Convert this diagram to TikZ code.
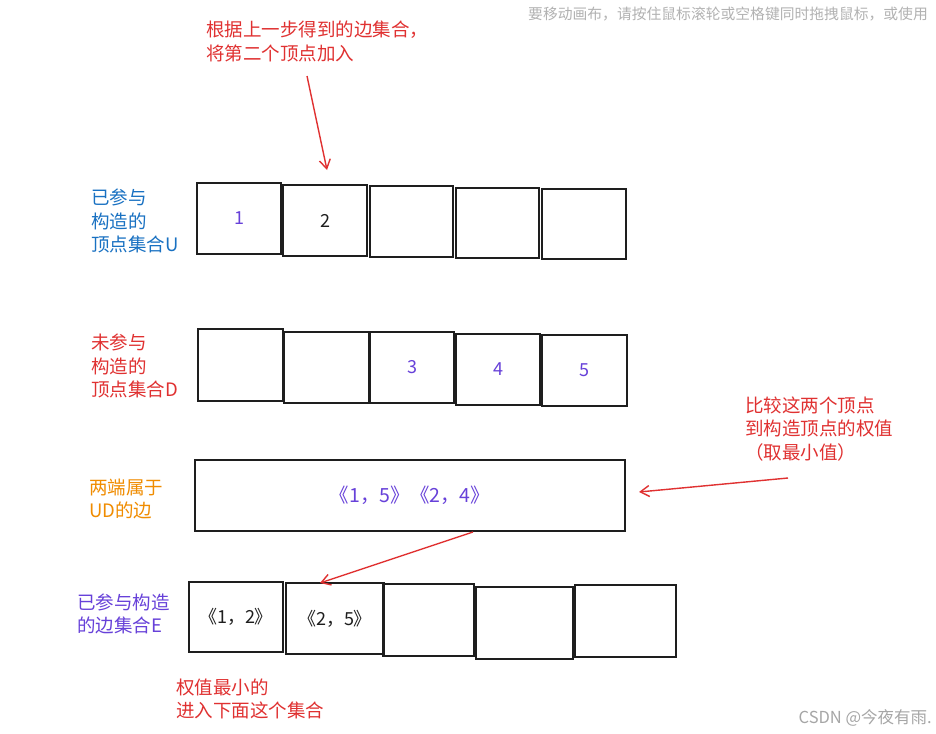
\documentclass[tikz,border=0pt]{standalone}
\usepackage{fontspec}
\setmainfont{Noto Sans CJK SC}
\newfontfamily\cjk{Noto Sans CJK SC}
\usetikzlibrary{arrows.meta}
\definecolor{exred}{HTML}{E03131}
\definecolor{exblue}{HTML}{1971C2}
\definecolor{exorange}{HTML}{F08C00}
\definecolor{expurple}{HTML}{6741D9}
\definecolor{exblack}{HTML}{1E1E1E}
\begin{document}
\begin{tikzpicture}[x=1pt,y=-1pt,
  cell/.style={draw=exblack,line width=1.7pt,inner sep=0pt,font=\cjk\fontsize{18}{20}\selectfont},
  lbl/.style={anchor=west,inner sep=0pt,align=left,font=\cjk\fontsize{18.5}{23.5}\selectfont},
  redarrow/.style={draw=exred,line width=1.4pt,-{Straight Barb[length=9pt,width=11pt,line width=1.4pt]}},
  wm/.style={inner sep=0pt,font=\cjk\fontsize{14.8}{16}\selectfont,text=black!30}
]
\useasboundingbox (0,0) rectangle (936,733);
\fill[white] (0,0) rectangle (936,733);

% watermark hints
\node[wm,anchor=west] (hint) at (528,14) {要移动画布，请按住鼠标滚轮或空格键同时拖拽鼠标，或使用};
\node[wm,anchor=east,font=\cjk\fontsize{16.5}{18}\selectfont,text=black!35] (csdn) at (932,718) {CSDN @今夜有雨.};

% labels
\node[lbl,text=exred] (toptxt) at (206,41.5) {根据上一步得到的边集合，\\将第二个顶点加入};
\node[lbl,text=exblue] (ulbl) at (91,221) {已参与\\构造的\\顶点集合U};
\node[lbl,text=exred] (dlbl) at (91,366) {未参与\\构造的\\顶点集合D};
\node[lbl,text=exorange,font=\cjk\fontsize{18.5}{22.5}\selectfont] (udlbl) at (89,499) {两端属于\\UD的边};
\node[lbl,text=expurple,font=\cjk\fontsize{18.5}{22.5}\selectfont] (elbl) at (77,614) {已参与构造\\的边集合E};
\node[lbl,text=exred] (cmp) at (745,429) {比较这两个顶点\\到构造顶点的权值\\（取最小值）};
\node[lbl,text=exred] (minlbl) at (176,699) {权值最小的\\进入下面这个集合};

% row U
\node[cell,minimum width=84pt,minimum height=71pt,text=expurple] (u1) at (239,218.5) {1};
\node[cell,minimum width=84pt,minimum height=71pt,text=exblack] (u2) at (325,220.5) {2};
\node[cell,minimum width=83pt,minimum height=71pt] (u3) at (411.5,221.5) {};
\node[cell,minimum width=83pt,minimum height=70pt] (u4) at (497.5,223) {};
\node[cell,minimum width=84pt,minimum height=70pt] (u5) at (584,224) {};

% row D
\node[cell,minimum width=85pt,minimum height=72pt] (d1) at (240.5,365) {};
\node[cell,minimum width=85pt,minimum height=71pt] (d2) at (326.5,367.5) {};
\node[cell,minimum width=84pt,minimum height=71pt,text=expurple] (d3) at (412,367.5) {3};
\node[cell,minimum width=84pt,minimum height=71pt,text=expurple] (d4) at (498,369.5) {4};
\node[cell,minimum width=85pt,minimum height=71pt,text=expurple] (d5) at (584.5,370.5) {5};

% edges with ends in U and D
\node[cell,minimum width=430pt,minimum height=71pt,text=expurple,font=\cjk\fontsize{19.5}{22}\selectfont] (ud) at (410,495.5) {《1，5》《2，4》};

% row E
\node[cell,minimum width=94pt,minimum height=70pt,text=exblack,font=\cjk\fontsize{18}{20}\selectfont] (e1) at (236,617) {《1，2》};
\node[cell,minimum width=98pt,minimum height=71pt,text=exblack,font=\cjk\fontsize{18}{20}\selectfont] (e2) at (335,618.5) {《2，5》};
\node[cell,minimum width=91pt,minimum height=72pt] (e3) at (428.5,620) {};
\node[cell,minimum width=97pt,minimum height=72pt] (e4) at (524.5,623) {};
\node[cell,minimum width=101pt,minimum height=72pt] (e5) at (625.5,621) {};

% arrows
\coordinate (a1s) at (307,76);
\coordinate (a1e) at (327,170);
\draw[redarrow] (a1s) -- (a1e);
\coordinate (a2s) at (788,478);
\coordinate (a2e) at (639,492);
\draw[redarrow] (a2s) -- (a2e);
\coordinate (a3s) at (473,532);
\coordinate (a3e) at (320,583);
\draw[redarrow] (a3s) -- (a3e);
\end{tikzpicture}
\end{document}
